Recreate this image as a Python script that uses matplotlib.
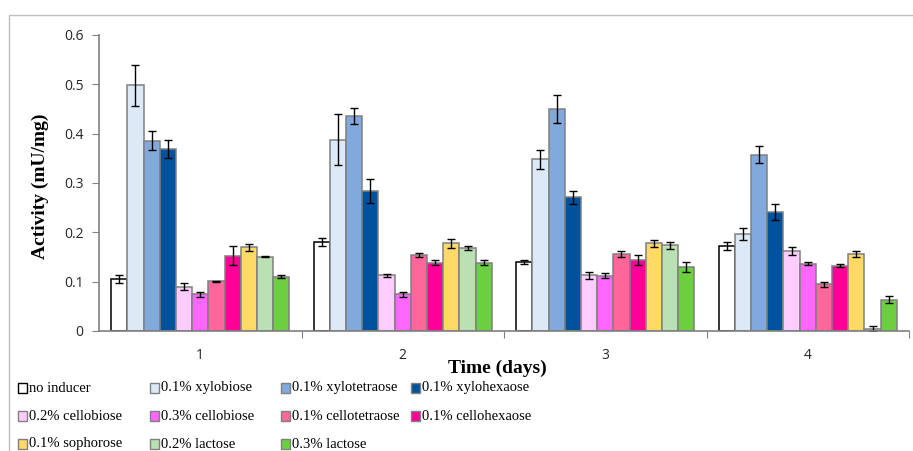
import matplotlib.pyplot as plt
import numpy as np
from matplotlib.patches import Rectangle

days = ['1', '2', '3', '4']

labels = ['no inducer', '0.1% xylobiose', '0.1% xylotetraose', '0.1% xylohexaose',
          '0.2% cellobiose', '0.3% cellobiose', '0.1% cellotetraose', '0.1% cellohexaose',
          '0.1% sophorose', '0.2% lactose', '0.3% lactose']
colors = ['#ffffff', '#dceaf7', '#82a9dc', '#00529c',
          '#ffccff', '#ff66ff', '#ff6699', '#ff0099',
          '#ffd966', '#bbe0b3', '#6ccf3f']

no_inducer = [0.106, 0.181, 0.139, 0.172]
xylobiose = [0.498, 0.388, 0.348, 0.197]
xylotetraose = [0.386, 0.436, 0.450, 0.357]
xylohexaose = [0.369, 0.284, 0.271, 0.242]
cellobiose_02 = [0.090, 0.113, 0.113, 0.163]
cellobiose_03 = [0.074, 0.074, 0.112, 0.136]
cellotetraose = [0.101, 0.155, 0.156, 0.095]
cellohexaose = [0.153, 0.138, 0.144, 0.132]
sophorose = [0.170, 0.178, 0.178, 0.156]
lactose_02 = [0.151, 0.169, 0.174, 0.005]
lactose_03 = [0.110, 0.138, 0.130, 0.063]

no_inducer_err = [0.008, 0.008, 0.004, 0.008]
xylobiose_err = [0.041, 0.052, 0.019, 0.012]
xylotetraose_err = [0.020, 0.017, 0.028, 0.017]
xylohexaose_err = [0.019, 0.025, 0.013, 0.016]
cellobiose_02_err = [0.007, 0.003, 0.007, 0.008]
cellobiose_03_err = [0.005, 0.005, 0.005, 0.003]
cellotetraose_err = [0.001, 0.004, 0.007, 0.005]
cellohexaose_err = [0.019, 0.005, 0.011, 0.003]
sophorose_err = [0.007, 0.009, 0.007, 0.006]
lactose_02_err = [0.002, 0.004, 0.007, 0.005]
lactose_03_err = [0.003, 0.005, 0.010, 0.007]

yticks = [0, 0.1, 0.2, 0.3, 0.4, 0.5, 0.6]
ytick_labels = ['0', '0.1', '0.2', '0.3', '0.4', '0.5', '0.6']

series = [no_inducer, xylobiose, xylotetraose, xylohexaose, cellobiose_02, cellobiose_03,
          cellotetraose, cellohexaose, sophorose, lactose_02, lactose_03]
errors = [no_inducer_err, xylobiose_err, xylotetraose_err, xylohexaose_err, cellobiose_02_err,
          cellobiose_03_err, cellotetraose_err, cellohexaose_err, sophorose_err,
          lactose_02_err, lactose_03_err]

W, H = 913, 451
fig = plt.figure(figsize=(W / 100, H / 100), dpi=100)

# light outer frame (extends past right and bottom edge)
fig.patches.append(Rectangle((9 / W, -0.1), 1.2, 1 - 15 / H + 0.1, transform=fig.transFigure,
                             fill=False, edgecolor='#bfbfbf', linewidth=1))

ax = fig.add_axes([99 / W, 1 - 331 / H, (909 - 99) / W, (331 - 35) / H])

x = np.arange(len(days))
n = len(series)
bw = 0.88 / n
grey = '#808080'
for i, (vals, err) in enumerate(zip(series, errors)):
    edge = 'black' if i == 0 else grey
    ax.bar(x + (i - (n - 1) / 2) * bw, vals, bw, color=colors[i], edgecolor=edge,
           linewidth=1.1, yerr=err, capsize=3,
           error_kw=dict(ecolor='black', elinewidth=1, capthick=1), zorder=2)

ax.set_xlim(-0.5, len(days) - 0.5)
ax.set_ylim(0, 0.6)
ax.set_yticks(yticks)
ax.set_yticklabels(ytick_labels)
ax.set_xticks(np.arange(len(days)) + 0.5)
ax.set_xticklabels([])
ax.set_xticks(x, minor=True)
ax.set_xticklabels(days, minor=True)
ax.tick_params(axis='x', which='major', length=5, color=grey, direction='out')
ax.tick_params(axis='x', which='minor', length=0, pad=12)
ax.tick_params(axis='y', length=5, color=grey, pad=6)
for lab in ax.get_xticklabels(minor=True) + ax.get_yticklabels():
    lab.set_fontfamily('Open Sans')
    lab.set_fontsize(10)
    lab.set_color('#262626')

for s in ['top', 'right']:
    ax.spines[s].set_visible(False)
for s in ['left', 'bottom']:
    ax.spines[s].set_color(grey)
    ax.spines[s].set_linewidth(1.2)

fig.text(40 / W, 1 - 186 / H, 'Activity (mU/mg)', rotation=90, ha='center', va='center',
         family='Liberation Serif', fontweight='bold', fontsize=14)
fig.text(497 / W, 1 - 368 / H, 'Time (days)', ha='center', va='center',
         family='Liberation Serif', fontweight='bold', fontsize=14)

# legend, row by row
col_x = [18, 150, 281, 411]
row_y = [388, 416, 444]
for i, lab in enumerate(labels):
    r, c = divmod(i, 4)
    px, py = col_x[c], row_y[r]
    edge = 'black' if i == 0 else grey
    fig.patches.append(Rectangle((px / W, 1 - (py + 5) / H), 9 / W, 10 / H,
                                 transform=fig.transFigure, facecolor=colors[i],
                                 edgecolor=edge, linewidth=1))
    fig.text((px + 11) / W, 1 - py / H, lab, ha='left', va='center',
             family='Liberation Serif', fontsize=10.5)

fig.savefig('out.png', dpi=100)
